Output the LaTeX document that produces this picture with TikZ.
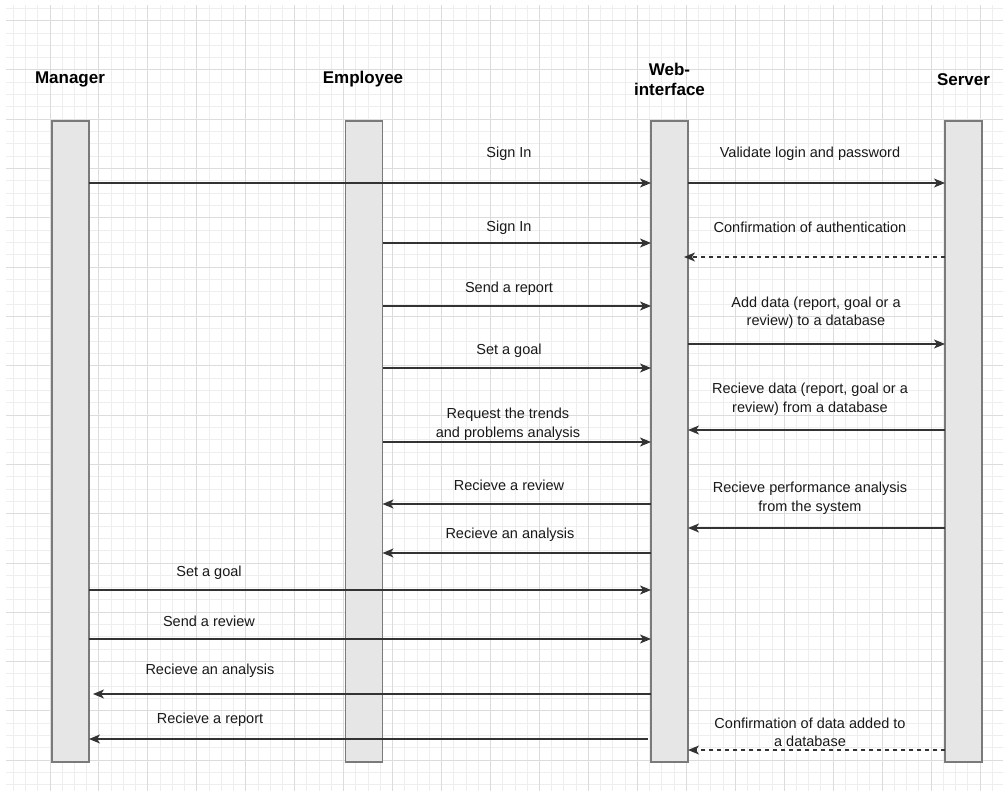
\documentclass[tikz,border=0pt]{standalone}
\usepackage{fontspec}
\setmainfont{Liberation Sans}
\usetikzlibrary{arrows.meta}
\definecolor{gridminor}{HTML}{EEEEEE}
\definecolor{gridmajor}{HTML}{DCDCDC}
\definecolor{boxfill}{HTML}{E6E6E6}
\definecolor{boxline}{HTML}{7A7A7A}
\definecolor{arrowline}{HTML}{333333}
\begin{document}
\begin{tikzpicture}[x=1pt,y=-1pt,
  life/.style={draw=boxline, fill=boxfill, line width=1.3pt, minimum width=37pt, minimum height=641pt, inner sep=0pt, outer sep=0pt},
  actor/.style={font=\fontsize{17}{20}\selectfont\bfseries, align=center, inner sep=0pt, yshift=-1.5pt},
  lbl/.style={font=\fontsize{14.5}{18.5}\selectfont, align=center, inner sep=0pt, text=black!90, yshift=-1.5pt},
  msg/.style={draw=arrowline, line width=1.4pt, -{Stealth[length=11pt,width=9pt,inset=3pt]}},
  ret/.style={msg, dash pattern=on 4pt off 4pt},
]
\useasboundingbox (0,0) rectangle (1003,791);
\fill[white] (0,0) rectangle (1003,791);
% grid
\begin{scope}
\clip (6,6) rectangle (1003,791);
\foreach \i in {-4,...,78} \draw[gridminor, line width=1pt] ({50+12.2375*\i},0) -- ++(0,800);
\foreach \i in {-6,...,60} \draw[gridminor, line width=1pt] (0,{70+12.325*\i}) -- ++(1010,0);
\foreach \i in {-1,...,20} \draw[gridmajor, line width=1pt] ({50+48.95*\i},0) -- ++(0,800);
\foreach \i in {-2,...,15} \draw[gridmajor, line width=1pt] (0,{70+49.3*\i}) -- ++(1010,0);
\end{scope}
% actors
\node[actor] (tman) at (70,78) {Manager};
\node[actor] (temp) at (363,78) {Employee};
\node[actor] (tweb) at (669.5,78) {Web-\\interface};
\node[actor] (tsrv) at (963.5,78) {Server};
% lifelines
\node[life] (man) at (70.5,441.5) {};
\node[life] (emp) at (364,441.5) {};
\node[life] (web) at (669.5,441.5) {};
\node[life] (srv) at (963.5,441.5) {};
% rows
\coordinate (r1) at (0,183);
\coordinate (r3) at (0,243);
\coordinate (r4) at (0,257);
\coordinate (r5) at (0,306);
\coordinate (r6) at (0,344);
\coordinate (r7) at (0,368);
\coordinate (r8) at (0,430);
\coordinate (r9) at (0,442);
\coordinate (r10) at (0,504);
\coordinate (r11) at (0,528);
\coordinate (r12) at (0,553);
\coordinate (r13) at (0,590);
\coordinate (r14) at (0,639);
\coordinate (r15) at (0,694);
\coordinate (r16) at (0,739);
\coordinate (r17) at (0,750);
% messages
\draw[msg] (man.east |- r1) -- (web.west |- r1);
\draw[msg] (web.east |- r1) -- (srv.west |- r1);
\draw[msg] (emp.east |- r3) -- (web.west |- r3);
\draw[ret] (srv.west |- r4) -- ([xshift=-4pt]web.east |- r4);
\draw[msg] (emp.east |- r5) -- (web.west |- r5);
\draw[msg] (web.east |- r6) -- (srv.west |- r6);
\draw[msg] (emp.east |- r7) -- (web.west |- r7);
\draw[msg] (srv.west |- r8) -- (web.east |- r8);
\draw[msg] (emp.east |- r9) -- (web.west |- r9);
\draw[msg] (web.west |- r10) -- (emp.east |- r10);
\draw[msg] (srv.west |- r11) -- (web.east |- r11);
\draw[msg] (web.west |- r12) -- (emp.east |- r12);
\draw[msg] (man.east |- r13) -- (web.west |- r13);
\draw[msg] (man.east |- r14) -- (web.west |- r14);
\draw[msg] (web.west |- r15) -- ([xshift=4pt]man.east |- r15);
\draw[msg] ([xshift=-3pt]web.west |- r16) -- (man.east |- r16);
\draw[ret] (srv.west |- r17) -- (web.east |- r17);
% labels
\node[lbl] (l1) at (509,152) {Sign In};
\node[lbl] (l2) at (810,152) {Validate login and password};
\node[lbl] (l3) at (509,226) {Sign In};
\node[lbl] (l4) at (810,226) {Confirmation of authentication};
\node[lbl] (l5) at (509,287) {Send a report};
\node[lbl] (l6) at (816,311) {Add data (report, goal or a\\review) to a database};
\node[lbl] (l7) at (509,349) {Set a goal};
\node[lbl] (l8) at (810,397.5) {Recieve data (report, goal or a\\review) from a database};
\node[lbl] (l9) at (508,422.5) {Request the trends\\and problems analysis};
\node[lbl] (l10) at (509,484) {Recieve a review};
\node[lbl] (l11) at (810,496.5) {Recieve performance analysis\\from the system};
\node[lbl] (l12) at (510,533) {Recieve an analysis};
\node[lbl] (l13) at (209,571) {Set a goal};
\node[lbl] (l14) at (209,620) {Send a review};
\node[lbl] (l15) at (210,669) {Recieve an analysis};
\node[lbl] (l16) at (210,718) {Recieve a report};
\node[lbl] (l17) at (810,731) {Confirmation of data added to\\a database};
\end{tikzpicture}
\end{document}
